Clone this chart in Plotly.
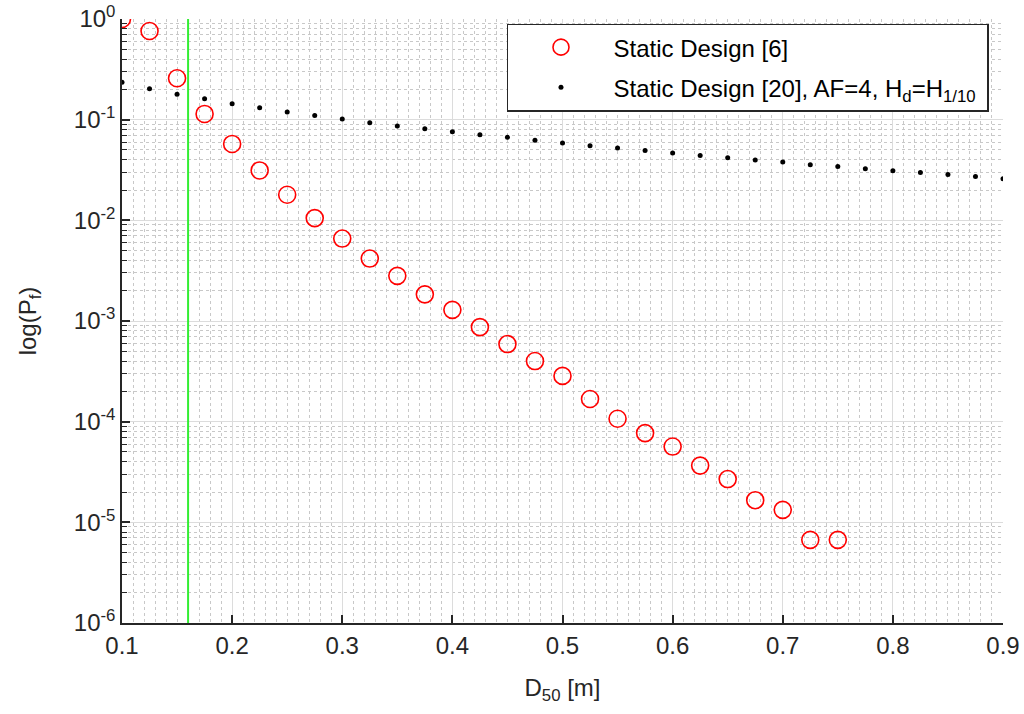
import numpy as np
import plotly.graph_objects as go

# Stone diameter D50 [m] and probability of failure, static design [6]
d50_static6 = [0.100, 0.125, 0.150, 0.175, 0.200, 0.225, 0.250, 0.275, 0.300,
               0.325, 0.350, 0.375, 0.400, 0.425, 0.450, 0.475, 0.500, 0.525,
               0.550, 0.575, 0.600, 0.625, 0.650, 0.675, 0.700, 0.725, 0.750]
pf_static6 = [1.0, 0.76, 0.258, 0.114, 0.0574, 0.0313, 0.01795, 0.01052, 0.00659,
              0.00417, 0.00281, 0.00184, 0.00129, 8.7e-4, 5.9e-4, 4.0e-4, 2.85e-4,
              1.68e-4, 1.07e-4, 7.7e-5, 5.66e-5, 3.66e-5, 2.69e-5, 1.66e-5, 1.33e-5,
              6.7e-6, 6.7e-6]

# Static design [20], AF=4, Hd=H1/10
d50_static20 = [0.100, 0.125, 0.150, 0.175, 0.200, 0.225, 0.250, 0.275, 0.300,
                0.325, 0.350, 0.375, 0.400, 0.425, 0.450, 0.475, 0.500, 0.525,
                0.550, 0.575, 0.600, 0.625, 0.650, 0.675, 0.700, 0.725, 0.750,
                0.775, 0.800, 0.825, 0.850, 0.875, 0.900]
pf_static20 = [0.235, 0.203, 0.179, 0.161, 0.144, 0.131, 0.119, 0.110, 0.1016,
               0.0934, 0.0865, 0.0813, 0.0760, 0.0709, 0.0667, 0.0623, 0.0586, 0.0551,
               0.0523, 0.0495, 0.0466, 0.0441, 0.0419, 0.0397, 0.0379, 0.0357, 0.0343,
               0.0325, 0.0311, 0.0299, 0.0286, 0.0273, 0.0259]

# Reference diameter marked by the vertical line
d50_ref = 0.16

x_ticks = [0.1, 0.2, 0.3, 0.4, 0.5, 0.6, 0.7, 0.8, 0.9]
y_exponents = [0, -1, -2, -3, -4, -5, -6]

FONT = "Liberation Sans, Arial, sans-serif"
FS = 24
INK = "#262626"

fig = go.Figure()
fig.add_trace(go.Scatter(
    x=d50_static6, y=pf_static6, mode="markers",
    name="Static Design [6]", legendgroup="g1",
    marker=dict(symbol="circle-open", size=17, color="#ff0000",
                line=dict(width=1.6, color="#ff0000")),
))
fig.add_trace(go.Scatter(
    x=d50_static20, y=pf_static20, mode="markers",
    name="Static Design [20], AF=4, H<sub>d</sub>=H<sub>1/10</sub>\u00a0",
    legendgroup="g2",
    marker=dict(symbol="circle", size=5, color="#000000"),
))

fig.add_shape(type="line", xref="x", yref="paper",
              x0=d50_ref, x1=d50_ref, y0=0, y1=1,
              line=dict(color="#33ee33", width=2))

axis_common = dict(
    showline=True, linecolor=INK, linewidth=1.5, mirror=False,
    ticks="inside", tickcolor=INK, ticklen=8, tickwidth=1.5,
    showgrid=True, gridcolor="#dcdcdc", gridwidth=1.2,
    zeroline=False, automargin=False,
    tickfont=dict(family=FONT, size=FS, color=INK),
)

fig.update_xaxes(
    **axis_common,
    range=[0.1, 0.9],
    tickvals=x_ticks,
    ticktext=[f"{v:.1f}" for v in x_ticks],
    minor=dict(dtick=0.01, showgrid=True, gridcolor="#c8c8c8",
               griddash="dot", gridwidth=1, ticks=""),
    title=dict(text="D<sub>50</sub> [m]",
               font=dict(family=FONT, size=FS, color=INK), standoff=22),
)

fig.update_yaxes(
    **axis_common,
    type="log",
    range=[-6, 0],
    tickvals=[10.0 ** e for e in y_exponents],
    ticktext=[f"10<sup>{e}</sup>" for e in y_exponents],
    minor=dict(dtick="D1", showgrid=True, gridcolor="#c8c8c8",
               griddash="dot", gridwidth=1,
               ticks="inside", ticklen=5, tickcolor=INK, tickwidth=1.2),
    title=dict(text="log(P<sub>f</sub>)",
               font=dict(family=FONT, size=FS, color=INK), standoff=30),
)

fig.update_layout(
    width=1024, height=714,
    margin=dict(l=122, r=21, t=19, b=91, autoexpand=False),
    paper_bgcolor="white", plot_bgcolor="white",
    font=dict(family=FONT, size=FS, color=INK),
    showlegend=True,
    legend=dict(
        x=0.437, y=0.9925, xanchor="left", yanchor="top",
        bgcolor="white", bordercolor=INK, borderwidth=1.5,
        font=dict(family=FONT, size=FS, color="#000000"),
        itemwidth=95, tracegroupgap=6,
    ),
)

fig.write_html("out.html")
